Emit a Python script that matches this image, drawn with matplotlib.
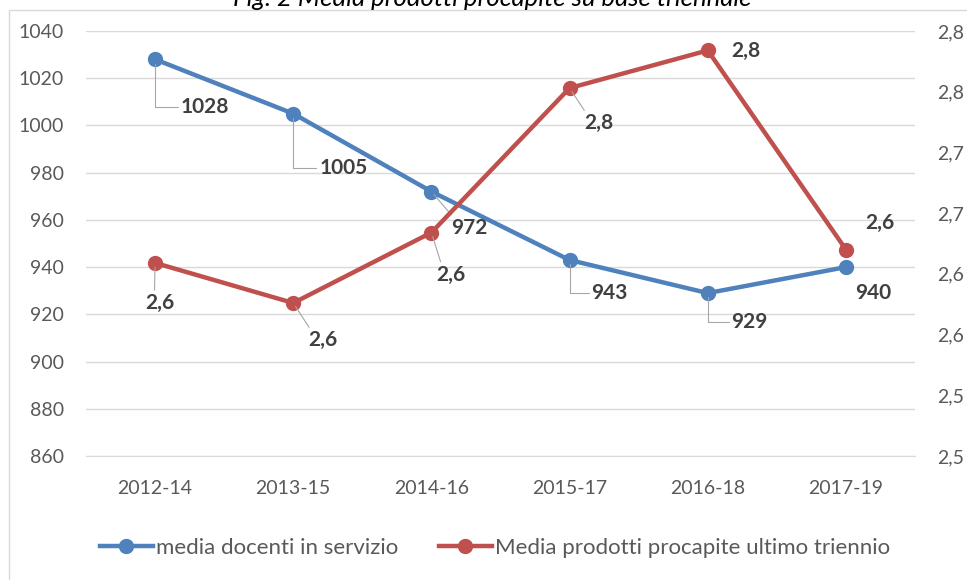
import matplotlib
matplotlib.use("Agg")
import matplotlib.pyplot as plt
from matplotlib.patches import Rectangle
from matplotlib.ticker import FuncFormatter

# dati
periodi = ["2012-14", "2013-15", "2014-16", "2015-17", "2016-18", "2017-19"]
docenti = [1028, 1005, 972, 943, 929, 940]
prodotti = [2.659, 2.626, 2.684, 2.803, 2.834, 2.670]
etichette_docenti = ["1028", "1005", "972", "943", "929", "940"]
etichette_prodotti = ["2,6", "2,6", "2,6", "2,8", "2,8", "2,6"]

BLU = "#4f81bd"
ROSSO = "#c0504d"
GRIGIO = "#595959"

plt.rcParams['font.family'] = ['Lato', 'DejaVu Sans']

fig = plt.figure(figsize=(9.67, 5.8), dpi=100)
ax = fig.add_axes([86/967, 1-456/580, 829/967, 425/580])
ax2 = ax.twinx()

x = list(range(len(periodi)))
l1, = ax.plot(x, docenti, color=BLU, lw=3.2, marker='o', ms=10, zorder=3,
              label="media docenti in servizio")
l2, = ax2.plot(x, prodotti, color=ROSSO, lw=3.2, marker='o', ms=10, zorder=3,
               label="Media prodotti procapite ultimo triennio")

ax.set_xlim(-0.5, 5.5)
ax.set_ylim(860, 1040)
ax.set_yticks(range(860, 1041, 20))
ax2.set_ylim(2.50, 2.85)
ax2.set_yticks([2.50, 2.55, 2.60, 2.65, 2.70, 2.75, 2.80, 2.85])
# l'asse destro nell'originale e' tagliato dal bordo: si vede solo "2,8", "2,7"...
ax2.yaxis.set_major_formatter(FuncFormatter(lambda v, p: f"{v:.2f}".replace(".", ",")[:-1]))
ax.set_xticks(x)
ax.set_xticklabels(periodi)

ax.grid(axis='y', color='#d9d9d9', lw=1)
ax.set_axisbelow(True)
for a in (ax, ax2):
    for s in a.spines.values():
        s.set_visible(False)
    a.tick_params(length=0, labelsize=14, labelcolor=GRIGIO)
ax.tick_params(axis='y', pad=16)
ax2.tick_params(axis='y', pad=16)
ax.tick_params(axis='x', pad=17)
ax.spines['bottom'].set_visible(True)
ax.spines['bottom'].set_color('#d9d9d9')

# etichette dati (scostamenti in pixel: etichetta - punto, y verso il basso)
off_doc = [(50, 48), (50, 54), (38, 36), (40, 33), (42, 29), (27, 26)]
lead_doc = [True, True, True, True, True, False]
off_prod = [(5, 40), (30, 37), (19, 42), (29, 35), (38, 1), (34, -27)]
lead_prod = [True, True, True, True, False, False]


def etichetta(asse, i, v, testo, off, leader, angolo):
    kw = {}
    if leader:
        kw['arrowprops'] = dict(arrowstyle='-', color='#a6a6a6', lw=0.8,
                                shrinkA=0, shrinkB=3,
                                connectionstyle="angle,angleA=0,angleB=90,rad=0" if angolo else "arc3",
                                relpos=(0, 0.5) if angolo else (0.3, 0.5))
    asse.annotate(testo, xy=(i, v), xytext=(off[0]*0.72, -off[1]*0.72),
                  textcoords='offset points', ha='center', va='center',
                  fontsize=15, fontweight='bold', color='#404040', zorder=5, **kw)


for i in x:
    etichetta(ax, i, docenti[i], etichette_docenti[i], off_doc[i], lead_doc[i], i != 2)
    etichetta(ax2, i, prodotti[i], etichette_prodotti[i], off_prod[i], lead_prod[i], False)

fig.legend(handles=[l1, l2], loc='center', bbox_to_anchor=(495/967, 1-548/580),
           ncol=2, frameon=False, fontsize=16, labelcolor=GRIGIO,
           handlelength=2.4, handletextpad=0.15, columnspacing=1.8)

# cornice del grafico e titolo tagliato in alto
fig.patches.append(Rectangle((9/967, -0.05), 1.1, 1.05-10/580, transform=fig.transFigure,
                             fill=False, edgecolor='#d9d9d9', lw=1))
fig.text(492/967, 1-6/580, "Fig. 2 Media prodotti procapite su base triennale",
         ha='center', va='baseline', fontsize=18.5, style='italic', color='black')

fig.savefig("out.png", dpi=100)
